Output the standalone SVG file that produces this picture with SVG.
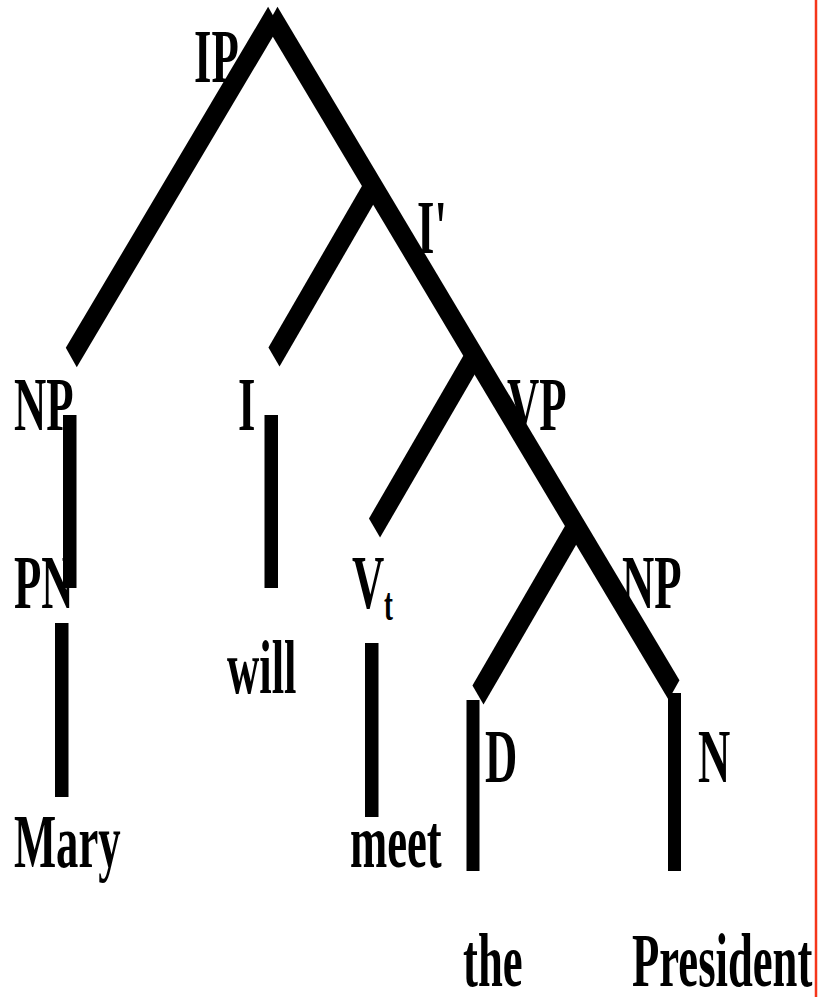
<svg xmlns="http://www.w3.org/2000/svg" width="818" height="997" viewBox="0 0 818 997">
<style>
.lbl{font-family:"Liberation Serif","Times New Roman",serif;font-weight:bold;font-size:77px;fill:#000}
.sub{font-size:46px}
.br{stroke:#000;stroke-width:27;fill:none;stroke-linecap:butt}
.bar{fill:#000}
</style>
<rect width="818" height="997" fill="#fff"/>
<g id="connectors">
  <g transform="scale(0.58 1)">
    <line class="br" x1="471.7" y1="16.5" x2="122.9" y2="357.5"/>
    <line class="br" x1="469.0" y1="16.5" x2="1162.1" y2="690"/>
    <line class="br" x1="643.1" y1="186" x2="472.4" y2="357"/>
    <line class="br" x1="818.1" y1="355.6" x2="645.7" y2="528"/>
    <line class="br" x1="993.1" y1="526" x2="824.1" y2="695"/>
  </g>
  <rect class="bar" x="63" y="415" width="13.5" height="173"/>
  <rect class="bar" x="264.5" y="415" width="13.5" height="173"/>
  <rect class="bar" x="55" y="623" width="13.5" height="174"/>
  <rect class="bar" x="365" y="643" width="13.5" height="174"/>
  <rect class="bar" x="466.5" y="700" width="13" height="171"/>
  <rect class="bar" x="668" y="693" width="13" height="178"/>
</g>
<g id="node-IP" transform="scale(0.58 1)"><text class="lbl" x="334.5" y="82">IP</text></g>
<g id="node-Ibar" transform="scale(0.58 1)"><text class="lbl" x="719" y="253">I'</text></g>
<g id="node-NP1" transform="scale(0.58 1)"><text class="lbl" x="24.1" y="430">NP</text></g>
<g id="node-I" transform="scale(0.58 1)"><text class="lbl" x="410.3" y="430">I</text></g>
<g id="node-VP" transform="scale(0.58 1)"><text class="lbl" x="874" y="430">VP</text></g>
<g id="node-PN" transform="scale(0.58 1)"><text class="lbl" x="24.1" y="608">PN</text></g>
<g id="node-Vt" transform="scale(0.58 1)"><text class="lbl" x="606.9" y="608">V</text><text class="lbl sub" x="662" y="620">t</text></g>
<g id="node-NP2" transform="scale(0.58 1)"><text class="lbl" x="1072.4" y="608">NP</text></g>
<g id="node-will" transform="scale(0.58 1)"><text class="lbl" x="391.4" y="693">will</text></g>
<g id="node-D" transform="scale(0.58 1)"><text class="lbl" x="836.2" y="782">D</text></g>
<g id="node-N" transform="scale(0.58 1)"><text class="lbl" x="1203.4" y="782">N</text></g>
<g id="node-Mary" transform="scale(0.58 1)"><text class="lbl" x="24.1" y="867">Mary</text></g>
<g id="node-meet" transform="scale(0.58 1)"><text class="lbl" x="603.4" y="867">meet</text></g>
<g id="node-the" transform="scale(0.58 1)"><text class="lbl" x="798.3" y="986">the</text></g>
<g id="node-President" transform="scale(0.58 1)"><text class="lbl" x="1089.7" y="986">President</text></g>
<line x1="816" y1="0" x2="816" y2="997" stroke="#f5361a" stroke-width="2.5"/>
</svg>
